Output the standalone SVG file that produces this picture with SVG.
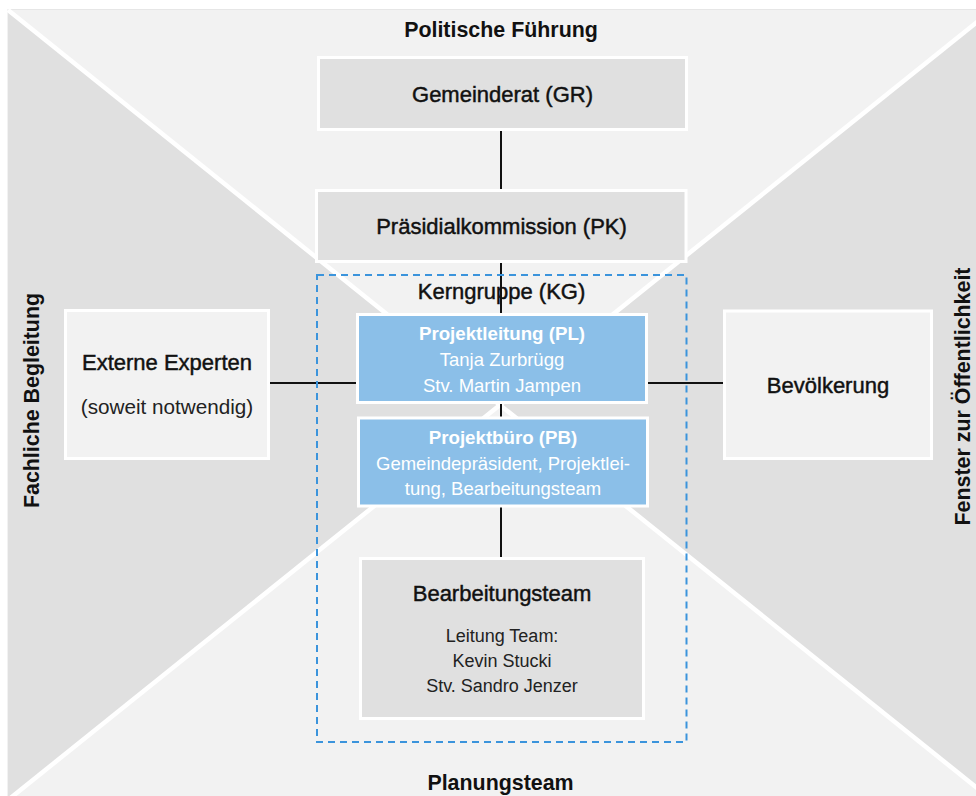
<svg xmlns="http://www.w3.org/2000/svg" width="976" height="796" viewBox="0 0 976 796">
<style>
  text { font-family: "Liberation Sans", Arial, sans-serif; text-anchor: middle; }
  .head { font-size: 21.4px; font-weight: bold; fill: #111; }
  .title { font-size: 22px; fill: #111; stroke: #111; stroke-width: 0.45; }
  .sub { font-size: 20.7px; fill: #222; }
  .small { font-size: 18px; fill: #222; }
  .btitle { font-size: 18.7px; font-weight: bold; fill: #fff; }
  .bsub { font-size: 18.5px; fill: #fff; }
  .grey { fill: #e0e0e0; stroke: #fff; stroke-width: 3; }
  .light { fill: #f2f2f2; stroke: #fff; stroke-width: 3; }
  .blue { fill: #8bbfe8; stroke: #fff; stroke-width: 3; }
  .conn { stroke: #111; stroke-width: 2; fill: none; }
</style>
<rect x="0" y="0" width="976" height="796" fill="#fff"/>
<g id="background">
  <rect x="8" y="9.5" width="984" height="791" fill="#f2f2f2" stroke="#e6e6e6" stroke-width="1"/>
  <polygon points="8,10 500,405 8,800" fill="#e0e0e0"/>
  <polygon points="992,10 500,405 992,800" fill="#e0e0e0"/>
  <g stroke="#fff" stroke-width="4.5">
    <line x1="8" y1="10" x2="992" y2="800"/>
    <line x1="992" y1="10" x2="8" y2="800"/>
  </g>
  <text class="head" x="501" y="37">Politische Führung</text>
  <text class="head" x="500.5" y="790">Planungsteam</text>
  <text class="head" transform="translate(38.5,400.5) rotate(-90)">Fachliche Begleitung</text>
  <text class="head" transform="translate(970,396.5) rotate(-90)">Fenster zur Öffentlichkeit</text>
</g>
<g id="connectors">
  <line class="conn" x1="501" y1="131" x2="501" y2="190"/>
  <line class="conn" x1="501" y1="262" x2="501" y2="315"/>
  <line class="conn" x1="501" y1="402" x2="501" y2="418"/>
  <line class="conn" x1="501" y1="506" x2="501" y2="558"/>
  <line class="conn" x1="270" y1="383" x2="358" y2="383"/>
  <line class="conn" x1="646" y1="383" x2="724" y2="383"/>
</g>
<g id="gemeinderat">
  <rect class="grey" x="318.5" y="57.5" width="368" height="72"/>
  <text class="title" x="502.5" y="102">Gemeinderat (GR)</text>
</g>
<g id="praesidialkommission">
  <rect class="grey" x="316.5" y="190.5" width="369.5" height="71"/>
  <text class="title" x="501.5" y="234">Präsidialkommission (PK)</text>
</g>
<g id="kerngruppe">
  <rect x="317" y="275" width="369.5" height="467" fill="none" stroke="#3b94dc" stroke-width="2" stroke-dasharray="7,5"/>
  <text class="title" x="501.5" y="299">Kerngruppe (KG)</text>
</g>
<g id="projektleitung">
  <rect class="blue" x="357.5" y="314.5" width="289" height="88"/>
  <text class="btitle" x="502" y="340">Projektleitung (PL)</text>
  <text class="bsub" x="502" y="366">Tanja Zurbrügg</text>
  <text class="bsub" x="502" y="391.5">Stv. Martin Jampen</text>
</g>
<g id="projektbuero">
  <rect class="blue" x="358.5" y="418" width="289" height="88"/>
  <text class="btitle" x="503" y="444">Projektbüro (PB)</text>
  <text class="bsub" x="503" y="469.5">Gemeindepräsident, Projektlei-</text>
  <text class="bsub" x="503" y="495">tung, Bearbeitungsteam</text>
</g>
<g id="bearbeitungsteam">
  <rect class="grey" x="360.5" y="558.5" width="283" height="160"/>
  <text class="title" x="502" y="601">Bearbeitungsteam</text>
  <text class="small" x="502" y="642">Leitung Team:</text>
  <text class="small" x="502" y="667">Kevin Stucki</text>
  <text class="small" x="502" y="692">Stv. Sandro Jenzer</text>
</g>
<g id="externe-experten">
  <rect class="light" x="65.5" y="310.5" width="203" height="148"/>
  <text class="title" x="167" y="370">Externe Experten</text>
  <text class="sub" x="167" y="413.5">(soweit notwendig)</text>
</g>
<g id="bevoelkerung">
  <rect class="light" x="724.5" y="311" width="207" height="147.5"/>
  <text class="title" x="828" y="393">Bevölkerung</text>
</g>
</svg>
